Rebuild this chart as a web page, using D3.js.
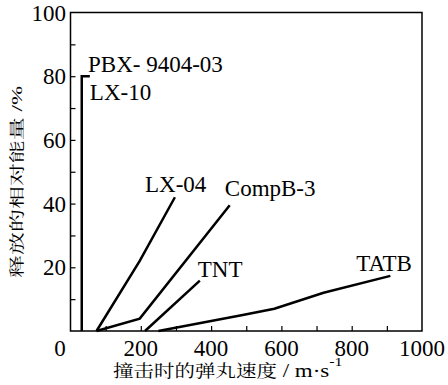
<!DOCTYPE html>
<html>
<head>
<meta charset="utf-8">
<script src="https://cdn.jsdelivr.net/npm/d3@7"></script>
<style>
  body { margin: 0; background: #fff; }
  svg { display: block; }
</style>
</head>
<body>
<svg id="chart" width="448" height="385"></svg>
<script>
// curves: [velocity m/s, relative energy %]
var lx10 = [[32, 0], [32, 80], [55, 80]];
var lx04 = [[74, 0], [197, 22], [297, 42]];
var compB3 = [[74, 0], [197, 3.9], [453, 39.5]];
var tnt = [[212, 0], [368, 15.8]];
var tatb = [[250, 0], [490, 5], [580, 7], [720, 12], [910, 17.3]];

var xTicks = [100, 200, 300, 400, 500, 600, 700, 800, 900];
var xLabels = [200, 400, 600, 800, 1000];
var yTicks = [10, 20, 30, 40, 50, 60, 70, 80, 90];
var yLabels = [20, 40, 60, 80, 100];

const SERIF = '"Liberation Serif"';
const CJK = '"Noto Serif CJK SC"';

var svg = d3.select("#chart");

const x = d3.scaleLinear().domain([0, 1000]).range([70.5, 422]);
const y = d3.scaleLinear().domain([0, 100]).range([331, 12.5]);

// frame
svg.append("rect")
    .attr("x", x(0)).attr("y", y(100))
    .attr("width", x(1000) - x(0)).attr("height", y(0) - y(100))
    .attr("fill", "none").attr("stroke", "#000").attr("stroke-width", 1.5);

// x ticks (inside) and labels
var gx = svg.append("g")
    .attr("transform", "translate(0," + y(0) + ")")
    .call(d3.axisBottom(x).tickValues(xTicks).tickSizeInner(-5).tickSizeOuter(0).tickFormat(""));
gx.select(".domain").remove();
gx.selectAll("line").attr("stroke-width", 1.2);

svg.selectAll(".xlab").data(xLabels).enter().append("text")
    .attr("class", "xlab")
    .style("font-family", SERIF)
    .attr("x", d => x(d)).attr("y", 356)
    .attr("text-anchor", "middle").attr("font-size", 23)
    .text(d => d);
svg.append("text")
    .style("font-family", SERIF)
    .attr("x", 60).attr("y", 356).attr("text-anchor", "middle").attr("font-size", 23)
    .text("0");

// y ticks and labels
var gy = svg.append("g")
    .attr("transform", "translate(" + x(0) + ",0)")
    .call(d3.axisLeft(y).tickValues(yTicks).tickSizeInner(-5).tickSizeOuter(0).tickFormat(""));
gy.select(".domain").remove();
gy.selectAll("line").attr("stroke-width", 1.2);

svg.selectAll(".ylab").data(yLabels).enter().append("text")
    .attr("class", "ylab")
    .style("font-family", SERIF)
    .attr("x", 66).attr("y", d => y(d)).attr("dy", "0.35em")
    .attr("text-anchor", "end").attr("font-size", 23)
    .text(d => d);

// curves
const line = d3.line().x(d => x(d[0])).y(d => y(d[1]));
[lx10, lx04, compB3, tnt, tatb].forEach(function(s) {
    svg.append("path")
        .attr("d", line(s))
        .attr("fill", "none")
        .attr("stroke", "#000")
        .attr("stroke-width", 2.5)
        .attr("stroke-linejoin", "miter");
});

// curve labels
var labels = [
    ["PBX- 9404-03", 50, 81.3],
    ["LX-10", 55, 72.5],
    ["LX-04", 212, 43.6],
    ["CompB-3", 439, 42.4],
    ["TNT", 362, 17],
    ["TATB", 813, 18.8]
];
svg.selectAll(".clab").data(labels).enter().append("text")
    .attr("class", "clab")
    .style("font-family", SERIF)
    .attr("x", d => x(d[1])).attr("y", d => y(d[2]))
    .attr("font-size", 23)
    .text(d => d[0]);

// axis titles
var xt = svg.append("text")
    .attr("transform", "translate(113,377) scale(1,0.82)");
xt.append("tspan").style("font-family", CJK).attr("font-size", 20.5).text("撞击时的弹丸速度");
xt.append("tspan").style("font-family", SERIF).attr("font-size", 23).text(" / m·s");
xt.append("tspan").style("font-family", SERIF).attr("font-size", 16).attr("dy", -14).text("-1");

var yt = svg.append("text")
    .attr("transform", "translate(22,278) rotate(-90) scale(1,0.65)");
yt.append("tspan").style("font-family", CJK).attr("font-size", 23).text("释放的相对能量");
yt.append("tspan").style("font-family", SERIF).attr("font-size", 23).text(" /%");
</script>
</body>
</html>
